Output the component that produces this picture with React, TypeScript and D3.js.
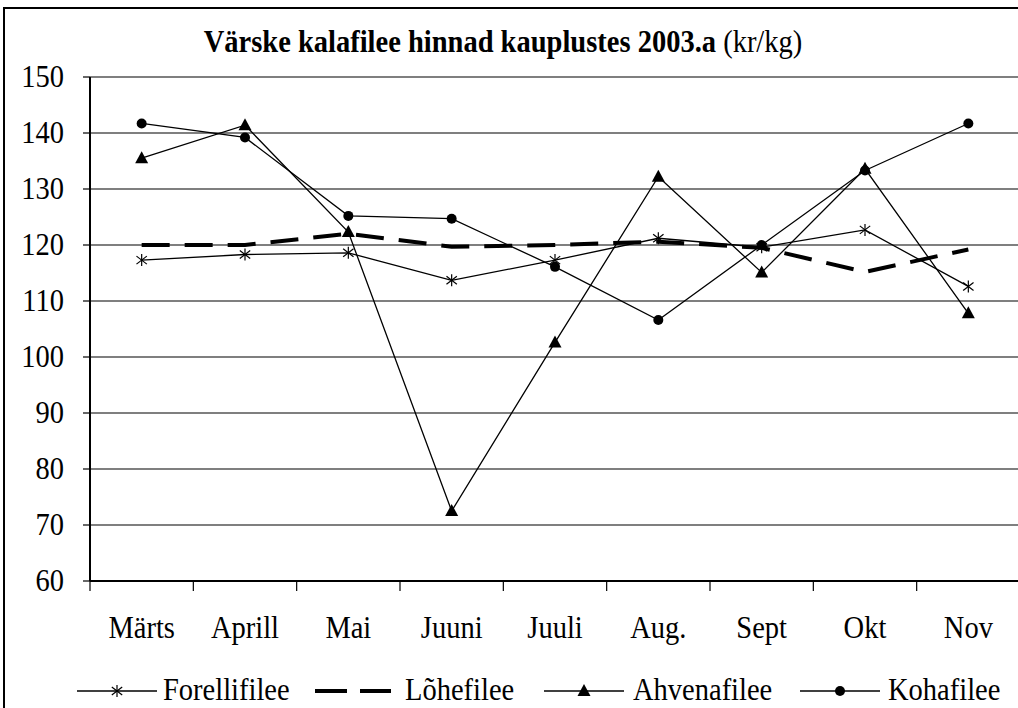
import React from "react";
import * as d3 from "d3";

const months = ["Märts", "Aprill", "Mai", "Juuni", "Juuli", "Aug.", "Sept", "Okt", "Nov"];
const forelli = [117.3, 118.3, 118.6, 113.7, 117.3, 121.2, 119.6, 122.7, 112.6];
const lohe = [120, 120, 122, 119.7, 120, 120.6, 119.5, 115.2, 119.2];
const ahvena = [135.5, 141.4, 122.3, 72.5, 102.6, 132.2, 115.1, 133.6, 107.8];
const koha = [141.7, 139.2, 125.2, 124.7, 116.1, 106.6, 120, 133.3, 141.7];
const yTicks = [60, 70, 80, 90, 100, 110, 120, 130, 140, 150];
const seriesNames = ["Forellifilee", "Lõhefilee", "Ahvenafilee", "Kohafilee"];

const W = 1018;
const H = 708;
const FONT = '"Liberation Serif", "Times New Roman", Times, serif';
const FS = 31;
const SX = 0.92;

function Marker({ kind, x, y }: { kind: string; x: number; y: number }) {
  if (kind === "star") {
    const r = 6;
    const dx = r * Math.cos(Math.PI / 6);
    const dy = r * Math.sin(Math.PI / 6);
    return (
      <g stroke="#000" strokeWidth={1.2}>
        <line x1={x} y1={y - r} x2={x} y2={y + r} />
        <line x1={x - dx} y1={y - dy - 1} x2={x + dx} y2={y + dy + 1} />
        <line x1={x - dx} y1={y + dy + 1} x2={x + dx} y2={y - dy - 1} />
      </g>
    );
  }
  if (kind === "tri") {
    return <path d={`M${x},${y - 7}L${x + 6.5},${y + 5}L${x - 6.5},${y + 5}Z`} fill="#000" />;
  }
  if (kind === "dot") {
    return <circle cx={x} cy={y} r={5} fill="#000" />;
  }
  return null;
}

function Txt({ x, y, anchor, children, weight }: any) {
  return (
    <text
      transform={`translate(${x},${y}) scale(${SX},1)`}
      textAnchor={anchor || "start"}
      style={{ fontFamily: FONT, fontSize: FS, fontWeight: weight || "normal" }}
      fill="#000"
    >
      {children}
    </text>
  );
}

export default function App() {
  const left = 90;
  const right = 1020;
  const top = 77;
  const bottom = 581;
  const x = d3.scaleBand<string>().domain(months).range([left, right]).padding(0);
  const y = d3.scaleLinear().domain([60, 150]).range([bottom, top]);
  const cx = (m: string) => (x(m) as number) + x.bandwidth() / 2;
  const line = d3
    .line<number>()
    .x((_, i) => cx(months[i]))
    .y((v) => y(v));

  const series = [
    { data: forelli, marker: "star", dash: null, width: 1.3 },
    { data: lohe, marker: null, dash: "28,15", width: 4 },
    { data: ahvena, marker: "tri", dash: null, width: 1.3 },
    { data: koha, marker: "dot", dash: null, width: 1.3 },
  ];

  const legendItems = [
    { lx1: 77, lx2: 157, tx: 163, marker: "star", dash: null, width: 1.3 },
    { lx1: 315, lx2: 391, tx: 405, marker: null, dash: "32,13", width: 4 },
    { lx1: 544, lx2: 624, tx: 633, marker: "tri", dash: null, width: 1.3 },
    { lx1: 800, lx2: 880, tx: 888, marker: "dot", dash: null, width: 1.3 },
  ];
  const legendY = 691;

  return (
    <svg
      width={W}
      height={H}
      style={{ position: "absolute", left: 0, top: 0, background: "#fff" }}
    >
      <rect x={0} y={0} width={W} height={H} fill="#fff" />
      <rect x={4} y={8} width={W + 10} height={H + 10} fill="none" stroke="#000" strokeWidth={2} />

      {/* title */}
      <text
        transform={`translate(${503},${52}) scale(${SX},1)`}
        textAnchor="middle"
        style={{ fontFamily: FONT, fontSize: FS }}
        fill="#000"
      >
        <tspan fontWeight="bold">Värske kalafilee hinnad kauplustes 2003.a</tspan>
        <tspan> (kr/kg)</tspan>
      </text>

      {/* gridlines */}
      {yTicks.map((t) => (
        <line key={t} x1={left} x2={right} y1={y(t)} y2={y(t)} stroke="#000" strokeWidth={1.2} />
      ))}
      {/* y ticks and labels */}
      {yTicks.map((t) => (
        <g key={"yt" + t}>
          <line x1={left - 7} x2={left} y1={y(t)} y2={y(t)} stroke="#000" strokeWidth={1.2} />
          <Txt x={64} y={y(t) + 10} anchor="end">
            {t}
          </Txt>
        </g>
      ))}
      {/* axes */}
      <line x1={left} x2={left} y1={top} y2={bottom} stroke="#000" strokeWidth={2} />
      <line x1={left} x2={right} y1={bottom} y2={bottom} stroke="#000" strokeWidth={2} />
      {months.map((m) => (
        <line
          key={"xt" + m}
          x1={x(m) as number}
          x2={x(m) as number}
          y1={bottom}
          y2={bottom + 10}
          stroke="#000"
          strokeWidth={1.2}
        />
      ))}
      {months.map((m) => (
        <Txt key={"xl" + m} x={cx(m)} y={638} anchor="middle">
          {m}
        </Txt>
      ))}

      {/* series */}
      {series.map((s, si) => (
        <g key={"s" + si}>
          <path
            d={line(s.data) || ""}
            fill="none"
            stroke="#000"
            strokeWidth={s.width}
            strokeDasharray={s.dash || undefined}
          />
          {s.marker &&
            s.data.map((v, i) => (
              <Marker key={i} kind={s.marker as string} x={cx(months[i])} y={y(v)} />
            ))}
        </g>
      ))}

      {/* legend */}
      {legendItems.map((it, i) => (
        <g key={"lg" + i}>
          <line
            x1={it.lx1}
            x2={it.lx2}
            y1={legendY}
            y2={legendY}
            stroke="#000"
            strokeWidth={it.width}
            strokeDasharray={it.dash || undefined}
          />
          {it.marker && <Marker kind={it.marker} x={(it.lx1 + it.lx2) / 2} y={legendY} />}
          <Txt x={it.tx} y={legendY + 9}>
            {seriesNames[i]}
          </Txt>
        </g>
      ))}
    </svg>
  );
}
